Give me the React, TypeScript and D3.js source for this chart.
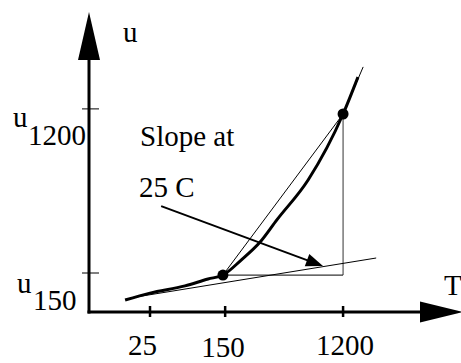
import React from "react";
import * as d3 from "d3";

// Schematic units: x 0..100 along T axis, y 0..100 along u axis
const xTickLabels = ["25", "150", "1200"];
const xTickPos = [16.4, 36.6, 68.3];
const yTickLabels = ["150", "1200"];
const yTickPos = [13.0, 67.7];

const curveX = [9.7, 16.4, 25.8, 32.0, 36.0, 40.9, 46.0, 50.5, 58.9, 68.3, 72.3];
const curveY = [4.0, 6.3, 8.7, 11.0, 12.3, 17.3, 23.3, 30.7, 44.0, 66.0, 78.3];

const dotX = [36.0, 68.3];
const dotY = [12.3, 66.0];

const tangent25X = [11.0, 77.2];
const tangent25Y = [4.67, 18.0];
const tangentTopX = [68.3, 73.7];
const tangentTopY = [66.0, 81.7];

const annotX = [19.4, 62.9];
const annotY = [35.3, 15.3];

const W = 461;
const H = 363;

function Label(props: { x: number; y: number; children: React.ReactNode; anchor?: string }) {
  return (
    <text
      x={props.x}
      y={props.y}
      fontFamily="'Liberation Serif', serif"
      fontSize={29}
      textAnchor={props.anchor || "start"}
      style={{ fontFamily: "'Liberation Serif'", fontSize: 29 }}
      fill="#000"
    >
      {props.children}
    </text>
  );
}

export default function App() {
  const x = d3.scaleLinear().domain([0, 100]).range([89, 461]);
  const y = d3.scaleLinear().domain([0, 100]).range([312, 12]);
  const line = d3.line<[number, number]>().x((d) => x(d[0])).y((d) => y(d[1]));
  const curveLine = d3
    .line<[number, number]>()
    .x((d) => x(d[0]))
    .y((d) => y(d[1]))
    .curve(d3.curveMonotoneX);

  const curvePts: [number, number][] = curveX.map((v, i) => [v, curveY[i]]);
  const x0 = x(0);
  const y0 = y(0);

  // annotation arrow head
  const ax1 = x(annotX[0]), ay1 = y(annotY[0]);
  const ax2 = x(annotX[1]), ay2 = y(annotY[1]);
  const len = Math.hypot(ax2 - ax1, ay2 - ay1);
  const ux = (ax2 - ax1) / len, uy = (ay2 - ay1) / len;
  const hl = 17, hw = 6.5;
  const bx = ax2 - ux * hl, by = ay2 - uy * hl;
  const head = `M${ax2},${ay2} L${bx - uy * hw},${by + ux * hw} L${bx + uy * hw},${by - ux * hw} Z`;

  return (
    <svg width={W} height={H} style={{ position: "absolute", left: 0, top: 0 }}>
      <style>{`text { font-family: 'Liberation Serif', serif; }`}</style>
      <rect width={W} height={H} fill="#fff" />
      {/* axes */}
      <line x1={x0} y1={y0 + 1.5} x2={x0} y2={58} stroke="#000" strokeWidth={3} />
      <path d={`M${x0},12 L${x0 - 11},60 L${x0 + 11},60 Z`} fill="#000" />
      <line x1={x0 - 1.5} y1={y0} x2={422} y2={y0} stroke="#000" strokeWidth={3} />
      <path d={`M463,${y0} L420,${y0 - 10.5} L420,${y0 + 10.5} Z`} fill="#000" />

      {/* x ticks */}
      {xTickPos.map((v, i) => (
        <line key={"xt" + i} x1={x(v)} x2={x(v)} y1={y0 - 6} y2={y0 + 5} stroke="#000" strokeWidth={2.5} />
      ))}
      <Label x={142.5} y={355} anchor="middle">{xTickLabels[0]}</Label>
      <Label x={223} y={357} anchor="middle">{xTickLabels[1]}</Label>
      <Label x={345} y={355} anchor="middle">{xTickLabels[2]}</Label>

      {/* y ticks */}
      {yTickPos.map((v, i) => (
        <line key={"yt" + i} x1={x0 - 7} x2={x0 + 10} y1={y(v)} y2={y(v)} stroke="#000" strokeWidth={1} />
      ))}
      <Label x={13} y={127}>u</Label>
      <Label x={28} y={145}>{yTickLabels[1]}</Label>
      <Label x={17} y={293}>u</Label>
      <Label x={33} y={310}>{yTickLabels[0]}</Label>

      {/* axis titles */}
      <Label x={123} y={42}>u</Label>
      <Label x={444} y={295}>T</Label>

      {/* construction lines */}
      <line
        x1={x(dotX[1])} y1={y(dotY[1])} x2={x(dotX[1])} y2={y(dotY[0])}
        stroke="#555" strokeWidth={1.2}
      />
      <line
        x1={x(dotX[0])} y1={y(dotY[0])} x2={x(dotX[1])} y2={y(dotY[0])}
        stroke="#000" strokeWidth={1}
      />
      <path d={line([[dotX[0], dotY[0]], [dotX[1], dotY[1]]])!} stroke="#000" strokeWidth={1} fill="none" />
      <path d={line([[tangent25X[0], tangent25Y[0]], [tangent25X[1], tangent25Y[1]]])!} stroke="#000" strokeWidth={1} fill="none" />
      <path d={line([[tangentTopX[0], tangentTopY[0]], [tangentTopX[1], tangentTopY[1]]])!} stroke="#000" strokeWidth={1} fill="none" />

      {/* main curve */}
      <path d={curveLine(curvePts)!} stroke="#000" strokeWidth={3} fill="none" />

      {/* dots */}
      {dotX.map((v, i) => (
        <circle key={"d" + i} cx={x(v)} cy={y(dotY[i])} r={5.5} fill="#000" />
      ))}

      {/* annotation */}
      <Label x={140} y={146}>Slope at</Label>
      <Label x={139} y={197}>25 C</Label>
      <line x1={ax1} y1={ay1} x2={bx + ux * 2} y2={by + uy * 2} stroke="#000" strokeWidth={2} />
      <path d={head} fill="#000" />
    </svg>
  );
}
